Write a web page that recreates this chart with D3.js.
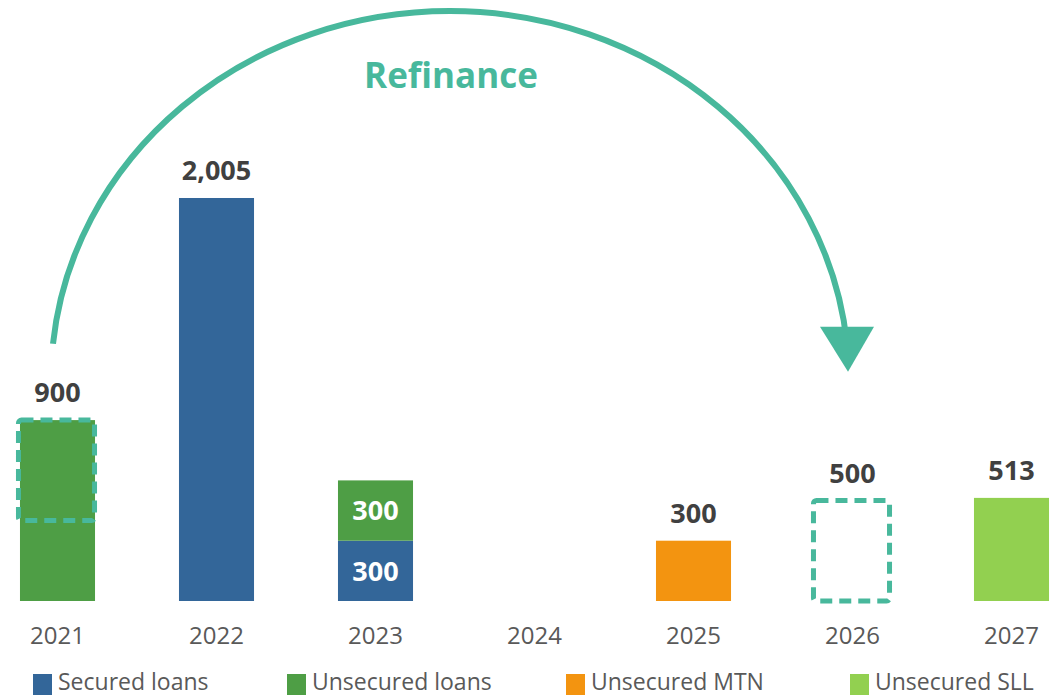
<!DOCTYPE html>
<html>
<head>
<meta charset="utf-8">
<script src="https://cdn.jsdelivr.net/npm/d3@7"></script>
<style>
  html, body { margin: 0; padding: 0; background: #ffffff; overflow: hidden; }
  svg { display: block; }
</style>
</head>
<body>
<svg id="chart" width="1062" height="698"></svg>
<script>
// ---------------- DATA ----------------
const years = ["2021", "2022", "2023", "2024", "2025", "2026", "2027"];
const securedLoans   = [0, 2005, 300, 0, 0, 0, 0];
const unsecuredLoans = [900, 0, 300, 0, 0, 0, 0];
const unsecuredMTN   = [0, 0, 0, 0, 300, 0, 0];
const unsecuredSLL   = [0, 0, 0, 0, 0, 0, 513];
const seriesNames = ["Secured loans", "Unsecured loans", "Unsecured MTN", "Unsecured SLL"];
const seriesColors = ["#336699", "#4E9E45", "#F39410", "#92D050"];
// Refinance: part of 2021 maturity (400..900) moved to 2026 (0..500)
const refinanceFromYear = "2021";
const refinanceFromRange = [400, 900];
const refinanceToYear = "2026";
const refinanceToRange = [0, 500];
const refinanceLabel = "Refinance";
// Labels above stacks (null = none shown)
const totalLabels = ["900", "2,005", null, null, "300", "500", "513"];

// ---------------- SETUP ----------------
const svg = d3.select("#chart");
const teal = "#48B89C";
const labelColor = "#404040";
const axisColor = "#595959";
const fontFamily = "'Open Sans', 'Noto Sans', sans-serif";

const x = d3.scaleBand()
  .domain(years)
  .range([-22, 1091])
  .paddingInner(0.528)
  .paddingOuter(0.264);

const y = d3.scaleLinear().domain([0, 2000]).range([601, 199]);

const rows = years.map((yr, i) => ({
  year: yr,
  "Secured loans": securedLoans[i],
  "Unsecured loans": unsecuredLoans[i],
  "Unsecured MTN": unsecuredMTN[i],
  "Unsecured SLL": unsecuredSLL[i]
}));

const stacked = d3.stack().keys(seriesNames)(rows);
const color = d3.scaleOrdinal().domain(seriesNames).range(seriesColors);

// ---------------- BARS ----------------
const barG = svg.append("g");
stacked.forEach(layer => {
  barG.selectAll(null)
    .data(layer.filter(d => d[1] - d[0] > 0))
    .enter()
    .append("rect")
    .attr("x", d => x(d.data.year))
    .attr("width", x.bandwidth())
    .attr("y", d => y(d[1]))
    .attr("height", d => y(d[0]) - y(d[1]))
    .attr("fill", color(layer.key));
});

// Inside labels for the multi-segment 2023 stack
stacked.forEach(layer => {
  barG.selectAll(null)
    .data(layer.filter(d => d[1] - d[0] > 0 && d.data.year === "2023"))
    .enter()
    .append("text")
    .attr("x", d => x(d.data.year) + x.bandwidth() / 2)
    .attr("y", d => (y(d[0]) + y(d[1])) / 2)
    .attr("dy", "0.36em")
    .attr("text-anchor", "middle")
    .attr("fill", "#ffffff")
    .attr("font-family", fontFamily)
    .attr("font-weight", 700)
    .attr("font-size", 27)
    .text(d => d3.format(",")(d[1] - d[0]));
});

// ---------------- DASHED REFINANCE BOXES ----------------
const dashG = svg.append("g");
[[refinanceFromYear, refinanceFromRange], [refinanceToYear, refinanceToRange]].forEach(([yr, rng]) => {
  dashG.append("rect")
    .attr("x", x(yr) - 1.5)
    .attr("width", x.bandwidth() + 1)
    .attr("y", y(rng[1]))
    .attr("height", y(rng[0]) - y(rng[1]))
    .attr("rx", 3)
    .attr("fill", "none")
    .attr("stroke", teal)
    .attr("stroke-width", 5)
    .attr("stroke-dasharray", "12,7");
});

// ---------------- TOTAL LABELS ----------------
const totals = years.map((yr, i) => {
  const t = securedLoans[i] + unsecuredLoans[i] + unsecuredMTN[i] + unsecuredSLL[i];
  const top = yr === refinanceToYear ? refinanceToRange[1] : t;
  return { year: yr, top: top, label: totalLabels[i] };
}).filter(d => d.label);

svg.append("g").selectAll("text")
  .data(totals)
  .enter()
  .append("text")
  .attr("x", d => x(d.year) + x.bandwidth() / 2)
  .attr("y", d => y(d.top) - 18)
  .attr("text-anchor", "middle")
  .attr("fill", labelColor)
  .attr("font-family", fontFamily)
  .attr("font-weight", 700)
  .attr("font-size", 27)
  .text(d => d.label);

// ---------------- X AXIS ----------------
const xAxis = d3.axisBottom(x).tickSize(0).tickPadding(0);
const axG = svg.append("g").attr("transform", "translate(0,627)").call(xAxis);
axG.select(".domain").remove();
axG.selectAll("text")
  .attr("fill", axisColor)
  .attr("font-family", fontFamily)
  .attr("font-size", 24)
  .attr("dy", "0.7em");

// ---------------- REFINANCE ARC ----------------
const cxL = x(refinanceFromYear) + x.bandwidth() / 2 - 4.5;
const cxR = x(refinanceToYear) + x.bandwidth() / 2 - 5.5;
const arcBaseY = y(1280);
const arcCenterY = y(1100);
const arcTopY = y(2935);
const ry = arcCenterY - arcTopY;
const halfW = (cxR - cxL) / 2;
const rx = halfW / Math.sqrt(1 - Math.pow((arcCenterY - arcBaseY) / ry, 2));
svg.append("path")
  .attr("d", `M${cxL},${arcBaseY} A${rx},${ry} 0 0 1 ${cxR},${arcBaseY}`)
  .attr("fill", "none")
  .attr("stroke", teal)
  .attr("stroke-width", 6);

// arrowhead
const tipY = y(1140);
const baseY = y(1365);
svg.append("path")
  .attr("d", d3.line()([[cxR - 27, baseY], [cxR + 27, baseY], [cxR + 1, tipY]]) + "Z")
  .attr("fill", teal);

svg.append("text")
  .attr("x", (cxL + cxR) / 2 + 1)
  .attr("y", 88)
  .attr("text-anchor", "middle")
  .attr("fill", teal)
  .attr("font-family", fontFamily)
  .attr("font-weight", 700)
  .attr("font-size", 35)
  .text(refinanceLabel);

// ---------------- LEGEND ----------------
const legendX = [33, 287, 566, 850];
const leg = svg.append("g");
seriesNames.forEach((name, i) => {
  const g = leg.append("g").attr("transform", `translate(${legendX[i]},0)`);
  g.append("rect").attr("x", 0).attr("y", 674).attr("width", 19).attr("height", 21).attr("fill", seriesColors[i]);
  g.append("text")
    .attr("x", 25)
    .attr("y", 690)
    .attr("fill", axisColor)
    .attr("font-family", fontFamily)
    .attr("font-size", 23)
    .text(name);
});
</script>
</body>
</html>
